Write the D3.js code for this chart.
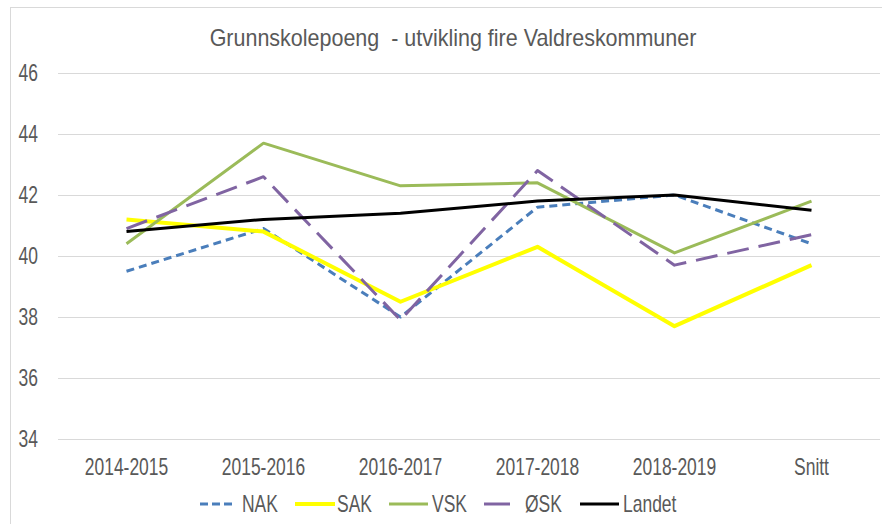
<!DOCTYPE html>
<html><head><meta charset="utf-8">
<script src="https://cdn.jsdelivr.net/npm/d3@7"></script>
<style>
body{margin:0;background:#fff;}
svg{display:block;font-family:"Liberation Sans",Arial,sans-serif;}
</style></head><body>
<svg id="c" width="882" height="524"></svg>
<script>
const categories = ["2014-2015","2015-2016","2016-2017","2017-2018","2018-2019","Snitt"];
const NAK = [39.5, 40.9, 38.0, 41.6, 42.0, 40.4];
const SAK = [41.2, 40.8, 38.5, 40.3, 37.7, 39.7];
const VSK = [40.4, 43.7, 42.3, 42.4, 40.1, 41.8];
const OSK = [40.9, 42.6, 37.9, 42.8, 39.7, 40.7];
const Landet = [40.8, 41.2, 41.4, 41.8, 42.0, 41.5];
const yTicks = [34, 36, 38, 40, 42, 44, 46];
const title = "Grunnskolepoeng\u00A0 - utvikling fire Valdreskommuner";

const series = [
  {name:"NAK", values:NAK, color:"#4A7EBB", width:3, dash:"8,5", lw:3},
  {name:"SAK", values:SAK, color:"#FFFF00", width:4, dash:null, lw:4},
  {name:"VSK", values:VSK, color:"#9BBB59", width:3, dash:null, lw:3},
  {name:"ØSK", values:OSK, color:"#8064A2", width:3, dash:"22,10", lw:3},
  {name:"Landet", values:Landet, color:"#000000", width:3, dash:null, lw:3}
];

const SX = 0.76;       // horizontal condensing of the font
const FS = "23px";
const svg = d3.select("#c");
svg.append("line").attr("x1",10.5).attr("x2",10.5).attr("y1",7).attr("y2",524).attr("stroke","#D9D9D9");
svg.append("line").attr("x1",10).attr("x2",882).attr("y1",7.5).attr("y2",7.5).attr("stroke","#D9D9D9");

const x = d3.scaleBand().domain(categories).range([58, 880]);
const y = d3.scaleLinear().domain([34, 46]).range([439, 73]);

svg.append("g").selectAll("line").data(yTicks).join("line")
  .attr("x1",58).attr("x2",880)
  .attr("y1",d=>Math.round(y(d))+0.5).attr("y2",d=>Math.round(y(d))+0.5)
  .attr("stroke","#D9D9D9").attr("stroke-width",1);

// condensed text helper: anchor at (ax, ay)
function ctext(g, ax, ay, str, anchor, size, sx, dy){
  return g.append("text")
    .attr("transform",`translate(${ax},${ay}) scale(${sx},1)`)
    .attr("text-anchor",anchor).attr("dy",dy)
    .attr("fill","#595959").style("font-size",size).text(str);
}

const gy = svg.append("g");
yTicks.forEach(t=>ctext(gy, 38, y(t), t, "end", FS, SX, "0.35em"));

const gx = svg.append("g");
categories.forEach(c=>ctext(gx, x(c)+x.bandwidth()/2, 458, c, "middle", FS, SX, "0.75em"));

// title
const tt = ctext(svg, 453, 46, title, "middle", "24px", 1, "0");
const tw = tt.node().getComputedTextLength();
tt.attr("transform",`translate(453,46) scale(${487/tw},1)`);

const line = d3.line().x((d,i)=>x(categories[i])+x.bandwidth()/2).y(d=>y(d));
svg.append("g").selectAll("path").data(series).join("path")
  .attr("d",s=>line(s.values)).attr("fill","none")
  .attr("stroke",s=>s.color).attr("stroke-width",s=>s.width)
  .attr("stroke-dasharray",s=>s.dash)
  .attr("stroke-linejoin","round");

const legendPos = [
  {lx1:200,lx2:236,tx:242},
  {lx1:295,lx2:335,tx:337},
  {lx1:389,lx2:428,tx:432},
  {lx1:484,lx2:510,tx:525},
  {lx1:580,lx2:619,tx:623}
];
const lg = svg.append("g");
series.forEach((s,i)=>{
  const p = legendPos[i];
  lg.append("line").attr("x1",p.lx1).attr("x2",p.lx2).attr("y1",504).attr("y2",504)
    .attr("stroke",s.color).attr("stroke-width",s.lw)
    .attr("stroke-dasharray", s.name==="NAK" ? "8,4" : null);
  ctext(lg, p.tx, 504, s.name, "start", FS, SX, "0.35em");
});
</script>
</body></html>
